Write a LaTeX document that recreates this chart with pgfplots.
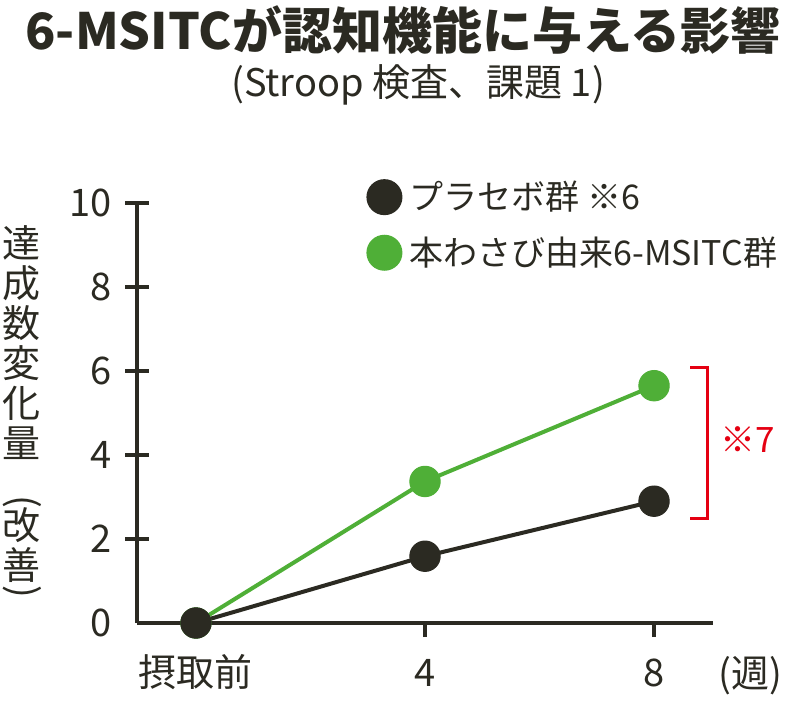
\documentclass[border=0pt]{standalone}
\usepackage{fontspec}
\setmainfont{Noto Sans CJK JP}
\usepackage{pgfplots}
\pgfplotsset{compat=1.18}
\definecolor{cblack}{HTML}{2B2A22}
\definecolor{cgreen}{HTML}{4FAF37}
\definecolor{cred}{HTML}{E50012}
\begin{document}
\begin{tikzpicture}
\path[use as bounding box] (-68.5pt,-38.5pt) rectangle (332pt,311.5pt);
\node[font=\bfseries\fontsize{25}{27}\selectfont, text=cblack] at (133pt,296.5pt) {6-MSITCが認知機能に与える影響};
\node[font=\fontsize{19}{21}\selectfont, text=cblack] at (140.5pt,269pt) {(Stroop 検査、課題 1)};
\foreach \c/\y in {達/243,成/283,数/323,変/363,化/403,量/443,改/525,善/565} {
  \node[font=\fontsize{19}{20}\selectfont, text=cblack, inner sep=0pt] at (-57.5pt,{(623-\y)/2*1pt}) {\c};
}
\node[font=\fontsize{19}{20}\selectfont, text=cblack, inner sep=0pt, rotate=-90] at (-57.5pt,{(623-502)/2*1pt}) {(};
\node[font=\fontsize{19}{20}\selectfont, text=cblack, inner sep=0pt, rotate=-90] at (-57.5pt,{(623-592)/2*1pt}) {)};
\begin{axis}[
  at={(0,0)}, anchor=south west,
  scale only axis, width=288pt, height=210pt,
  xmin=-1.03, xmax=9.03, ymin=0, ymax=10,
  clip=false,
  axis x line*=bottom, axis y line*=left,
  axis line style={line width=1.75pt, cblack},
  xtick={0,4,8}, xticklabels={摂取前,4,8},
  ytick={2,4,6,8,10},
  extra y ticks={0}, extra y tick style={tick style={draw=none}},
  ytick align=center, xtick align=outside,
  major tick length=12pt,
  xtick style={/pgfplots/major tick length=7pt},
  tick style={line width=1.75pt, cblack},
  /pgf/number format/assume math mode=true,
  tick label style={font=\fontsize{19}{20}\selectfont, text=cblack},
  yticklabel style={anchor=east, inner sep=0pt, xshift=-6.5pt},
  xticklabel style={anchor=base, inner sep=0pt, yshift=-19.5pt},
  legend style={at={(axis cs:2.97,10.62)}, anchor=north west, draw=none, fill=none, inner sep=0pt,
    row sep=8pt, font=\fontsize{17}{19}\selectfont, text=cblack, cells={anchor=west},
    /tikz/every odd column/.append style={column sep=1.5pt}},
  legend image code/.code={\fill[#1] (0pt,0pt) circle (8pt);},
  reverse legend,
]
\addplot[cgreen, line width=2pt, mark=*, mark size=7.6pt, mark options={line width=0.5pt, fill=cgreen}]
  coordinates {(0,0) (4,3.37) (8,5.65)};
\addlegendentry{本わさび由来6-MSITC群}
\addplot[cblack, line width=2pt, mark=*, mark size=7.6pt, mark options={line width=0.5pt, fill=cblack}]
  coordinates {(0,0) (4,1.59) (8,2.90)};
\addlegendentry{プラセボ群 ※6}
\draw[cred, line width=1.5pt] (axis cs:8.63,6.095) -- (axis cs:8.93,6.095) -- (axis cs:8.93,2.5) -- (axis cs:8.63,2.5);
\node[text=cred, font=\fontsize{17.5}{19}\selectfont] at (axis cs:9.64,4.36) {※7};
\node[anchor=base, yshift=-32pt, inner sep=0pt, text=cblack, font=\fontsize{19}{20}\selectfont] at (axis cs:9.68,0) {(週)};
\end{axis}
\end{tikzpicture}
\end{document}
